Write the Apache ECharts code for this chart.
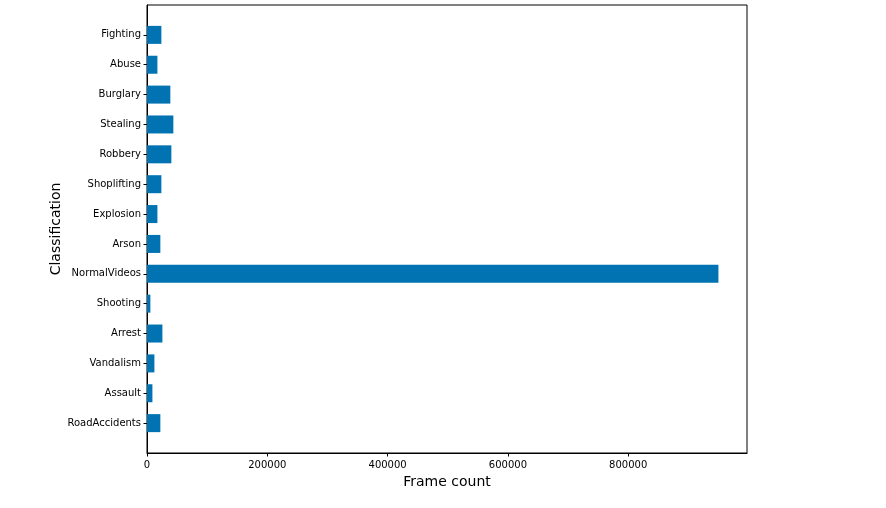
<!DOCTYPE html>
<html>
<head>
<meta charset="utf-8">
<script src="https://cdn.jsdelivr.net/npm/echarts@6/dist/echarts.min.js"></script>
<style>html,body{margin:0;padding:0;background:#fff;}#c{width:886px;height:508px;}</style>
</head>
<body>
<div id="c"></div>
<script>
// Categories listed from bottom to top
const categories = ['RoadAccidents','Assault','Vandalism','Arrest','Shooting','NormalVideos','Arson','Explosion','Shoplifting','Robbery','Stealing','Burglary','Abuse','Fighting'];
const frameCounts = [22200, 9000, 12300, 25600, 5600, 950000, 22200, 17300, 23900, 40500, 43800, 38800, 17300, 23900];
const xTicks = [0, 200000, 400000, 600000, 800000];

const chart = echarts.init(document.getElementById('c'), null, {renderer: 'canvas'});
const font = 'DejaVu Sans';
// pad one empty slot at each end so the axis spans one unit beyond the outer bars
const yCats = [''].concat(categories, ['']);
const last = yCats.length - 1;
chart.setOption({
  animation: false,
  backgroundColor: '#fff',
  grid: {left: 147, top: 5, width: 600, height: 448, show: true, borderColor: '#000', borderWidth: 1, backgroundColor: 'transparent'},
  xAxis: {
    type: 'value', min: 0, max: 997500, interval: 200000,
    name: 'Frame count', nameLocation: 'middle', nameGap: 22, nameMoveOverlap: false,
    nameTextStyle: {fontFamily: font, fontSize: 14, color: '#000'},
    axisLine: {show: true, lineStyle: {color: '#000', width: 1}},
    axisTick: {show: true, length: 3.5, lineStyle: {color: '#000'}, customValues: xTicks},
    axisLabel: {fontFamily: font, fontSize: 10, color: '#000', margin: 7, customValues: xTicks, formatter: v => String(v)},
    splitLine: {show: false}
  },
  yAxis: {
    type: 'category', data: yCats, boundaryGap: false,
    name: 'Classification', nameLocation: 'middle', nameGap: 84, nameRotate: 90, nameMoveOverlap: false,
    nameTextStyle: {fontFamily: font, fontSize: 14, color: '#000'},
    axisLine: {show: true, lineStyle: {color: '#000', width: 1}},
    axisTick: {show: true, length: 3.5, lineStyle: {color: '#000'}, interval: (i) => i > 0 && i < last},
    axisLabel: {fontFamily: font, fontSize: 10, color: '#000', margin: 6, interval: 0, padding: [3, 0, 0, 0]},
    splitLine: {show: false}
  },
  series: [{
    type: 'bar',
    barWidth: 18,
    itemStyle: {color: '#0173b2'},
    data: ['-'].concat(frameCounts, ['-'])
  }]
});
</script>
</body>
</html>
